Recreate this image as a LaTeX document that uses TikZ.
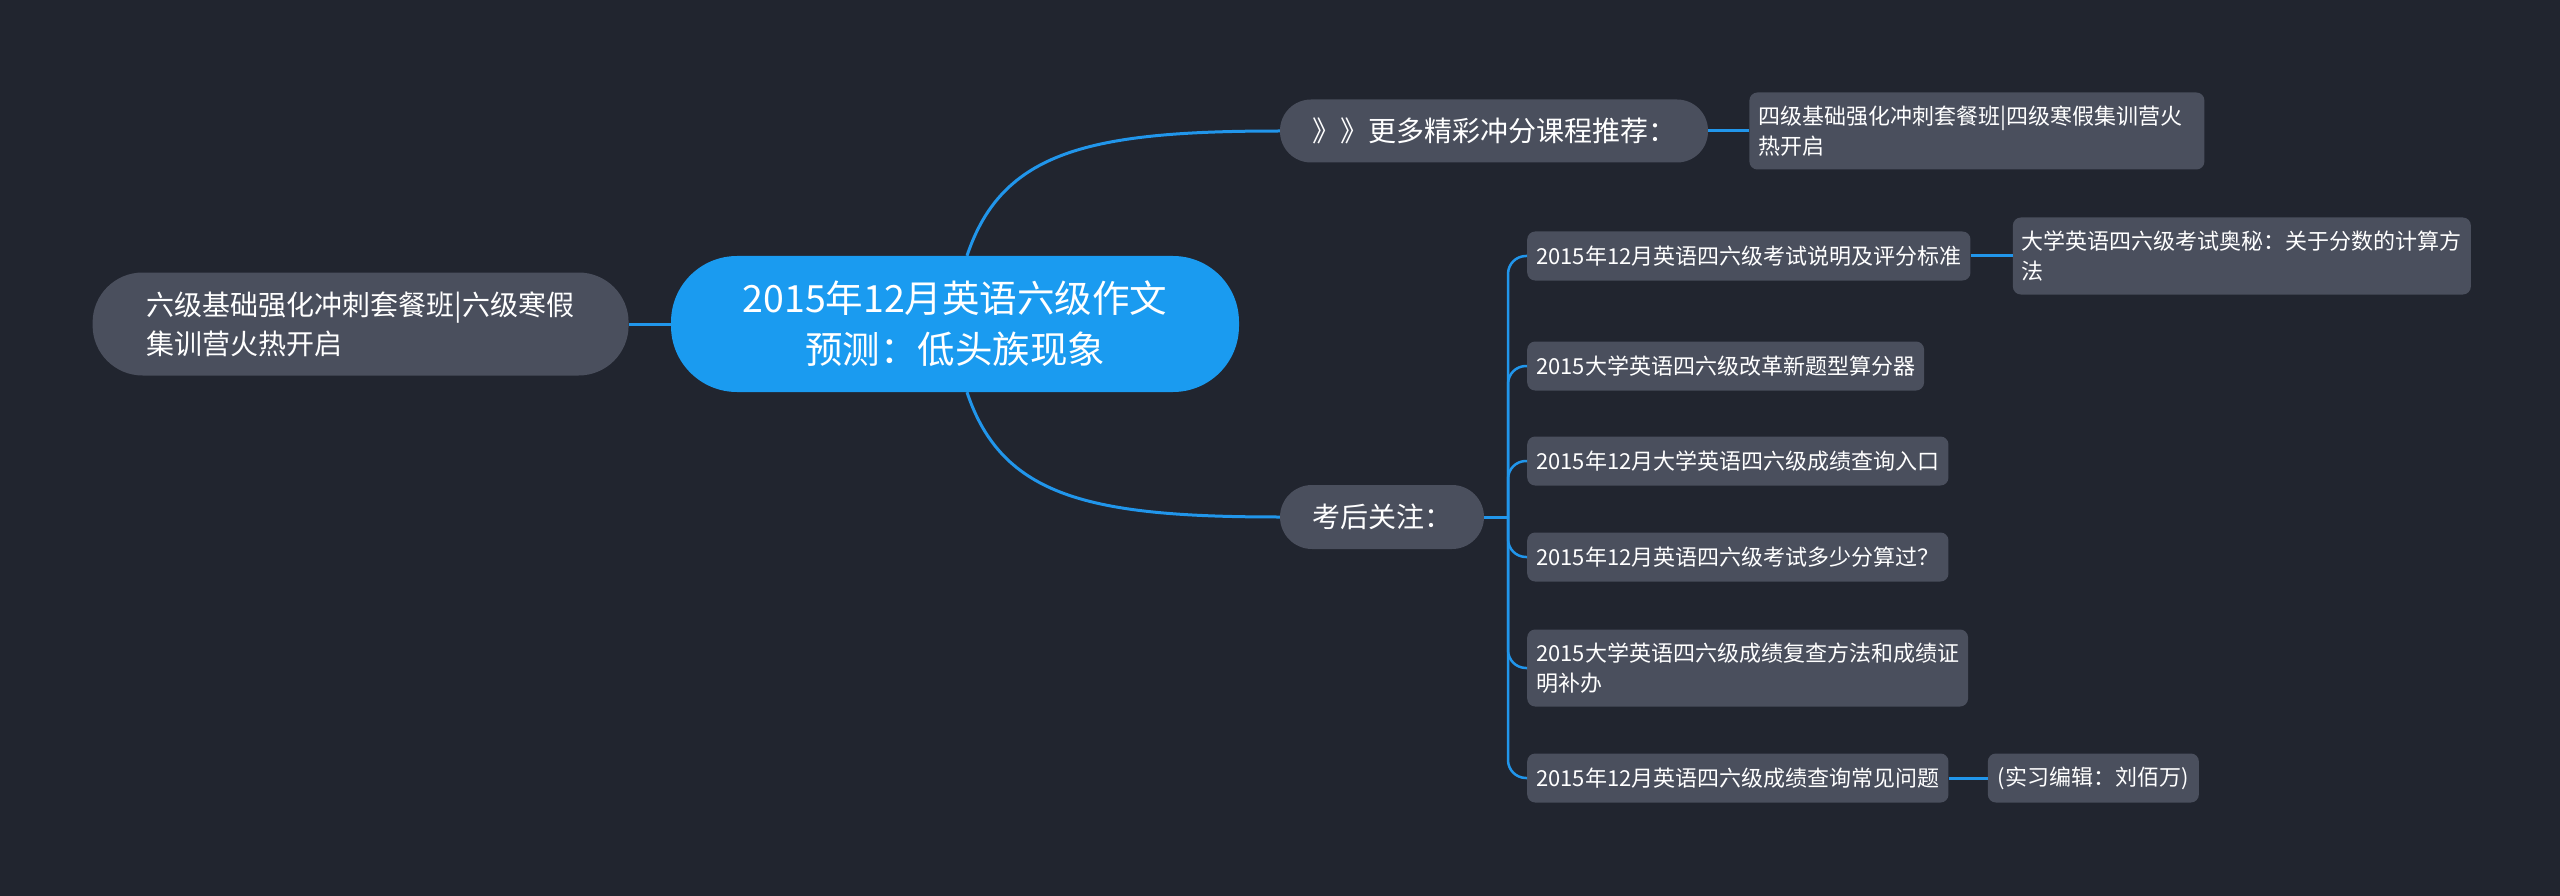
\documentclass[tikz,border=0pt]{standalone}
\usepackage{fontspec}
\setmainfont{Noto Sans CJK SC}
\usepackage{tikz}
\usetikzlibrary{positioning}
\usepackage{xcolor}
\definecolor{bgc}{HTML}{21252F}
\definecolor{boxc}{HTML}{4A4F5D}
\definecolor{rootc}{HTML}{1A9BF0}
\definecolor{linkc}{HTML}{2196EB}

\begin{document}
\begin{tikzpicture}[x=1pt, y=-1pt,
  root/.style={fill=rootc, rounded corners=66pt, minimum width=568pt, minimum height=136pt,
    align=center, text=white, font=\fontsize{37.5pt}{51pt}\selectfont, inner sep=0pt},
  topic/.style={fill=boxc, rounded corners=31pt, minimum height=63pt,
    align=center, text=white, font=\fontsize{28pt}{39pt}\selectfont, inner sep=0pt},
  leaf/.style={fill=boxc, rounded corners=8pt, minimum height=49pt,
    align=left, text=white, font=\fontsize{22pt}{30pt}\selectfont, inner xsep=9pt, inner ysep=0pt},
  twoline/.style={minimum height=77pt},
  link/.style={draw=linkc, line width=3pt},
  fork/.style={draw=linkc, line width=2.5pt, rounded corners=18pt}
]
  \fill[bgc] (0,0) rectangle (2560,896);
  \useasboundingbox (0,0) rectangle (2560,896);

  % centre and left branch
  \node[root] (root) at (955,324) {2015年12月英语六级作文\\预测：低头族现象};
  \node[topic, left=42pt of root, minimum width=536pt, minimum height=103pt,
    rounded corners=50pt, align=left] (six) {六级基础强化冲刺套餐班|六级寒假\\集训营火热开启};
  \draw[link] (root) -- (six);

  % upper branch
  \node[topic, minimum width=428pt] (more) at (1494,131) {》》更多精彩冲分课程推荐：};
  \node[leaf, twoline, right=41pt of more, text width=437pt] (four) {四级基础强化冲刺套餐班|四级寒假集训营火\\热开启};
  \draw[link] ([xshift=12pt]root.north) .. controls +(35,-105) and +(-190,0) .. (more.west);
  \draw[link] (more) -- (four);

  % lower branch
  \node[topic, minimum width=204pt, minimum height=64pt, rounded corners=32pt] (after) at (1382,517) {考后关注：};
  \draw[link] ([xshift=12pt]root.south) .. controls +(35,105) and +(-190,0) .. (after.west);
  \coordinate (bus) at (1508,517);
  \draw[link] (after.east) -- (bus);

  \node[leaf, anchor=west] (c1) at (1527,256) {2015年12月英语四六级考试说明及评分标准};
  \node[leaf, anchor=west] (c2) at (1527,366) {2015大学英语四六级改革新题型算分器};
  \node[leaf, anchor=west] (c3) at (1527,461) {2015年12月大学英语四六级成绩查询入口};
  \node[leaf, anchor=west] (c4) at (1527,557) {2015年12月英语四六级考试多少分算过？};
  \node[leaf, twoline, anchor=west] (c5) at (1527,668) {2015大学英语四六级成绩复查方法和成绩证\\明补办};
  \node[leaf, anchor=west] (c6) at (1527,778) {2015年12月英语四六级成绩查询常见问题};
  \foreach \c in {c1,c2,c3,c4,c5,c6}
    \draw[fork] (bus) |- (\c.west);

  \node[leaf, twoline, right=42pt of c1] (secret) {大学英语四六级考试奥秘：关于分数的计算方\\法};
  \draw[link] (c1) -- (secret);
  \node[leaf, right=39pt of c6, minimum width=211pt] (editor) {(实习编辑：刘佰万)};
  \draw[link] (c6) -- (editor);
\end{tikzpicture}
\end{document}
